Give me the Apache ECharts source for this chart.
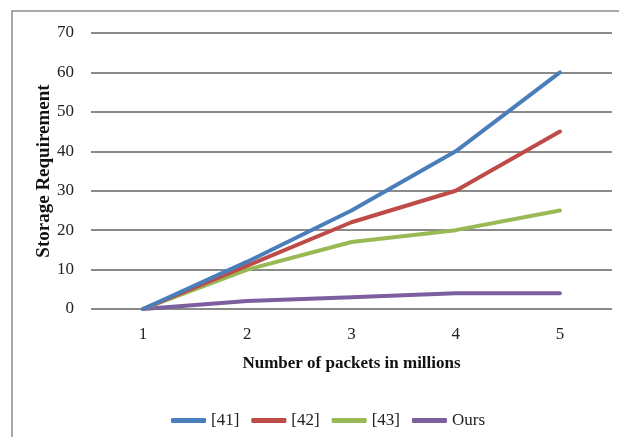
<!DOCTYPE html>
<html>
<head>
<meta charset="utf-8">
<script src="https://cdn.jsdelivr.net/npm/echarts@6/dist/echarts.min.js"></script>
<style>
  html, body { margin: 0; padding: 0; background: #fff; }
  #chart { width: 619px; height: 437px; }
</style>
</head>
<body>
<div id="chart"></div>
<script>
// Packet counts (millions) on the x axis
const categories = ['1', '2', '3', '4', '5'];

// Storage requirement per scheme
const ref41 = [0, 12, 25, 40, 60];
const ref42 = [0, 11, 22, 30, 45];
const ref43 = [0, 10, 17, 20, 25];
const ours = [0, 2, 3, 4, 4];

const seriesNames = ['[41]', '[42]', '[43]', 'Ours'];
const seriesColors = ['#4a7ebb', '#be4b48', '#98b954', '#7d5fa0'];
const seriesData = [ref41, ref42, ref43, ours];

const serif = '"Liberation Serif", "Times New Roman", serif';

const chart = echarts.init(document.getElementById('chart'), null, { renderer: 'canvas' });

chart.setOption({
  animation: false,
  backgroundColor: '#ffffff',
  graphic: [{
    type: 'rect',
    shape: { x: 12, y: 11, width: 640, height: 460 },
    style: { fill: 'none', stroke: '#8c8c8c', lineWidth: 1.5 },
    silent: true
  }],
  grid: { left: 91, right: 7, top: 33, bottom: 128, containLabel: false },
  legend: {
    data: seriesNames,
    left: 166,
    top: 407,
    icon: 'roundRect',
    itemWidth: 35,
    itemHeight: 5,
    itemGap: 12,
    textStyle: { fontFamily: serif, fontSize: 17, color: '#222' }
  },
  xAxis: {
    type: 'category',
    data: categories,
    boundaryGap: true,
    name: 'Number of packets in millions',
    nameLocation: 'middle',
    nameGap: 46,
    nameMoveOverlap: false,
    nameTextStyle: { fontFamily: serif, fontSize: 17, fontWeight: 'bold', color: '#111' },
    axisLine: { show: false },
    axisTick: { show: false },
    axisLabel: { fontFamily: serif, fontSize: 17, color: '#222', margin: 17 },
    splitLine: { show: false }
  },
  yAxis: {
    type: 'value',
    min: 0,
    max: 70,
    interval: 10,
    name: 'Storage Requirement',
    nameLocation: 'middle',
    nameGap: 37,
    nameMoveOverlap: false,
    nameTextStyle: { fontFamily: serif, fontSize: 19, fontWeight: 'bold', color: '#111' },
    axisLine: { show: false },
    axisTick: { show: false },
    axisLabel: { fontFamily: serif, fontSize: 17, color: '#222', margin: 17 },
    splitLine: { show: true, lineStyle: { color: '#8a8a8a', width: 2 } }
  },
  series: seriesNames.map((name, i) => ({
    name: name,
    type: 'line',
    data: seriesData[i],
    symbol: 'none',
    color: seriesColors[i],
    lineStyle: { width: 4, color: seriesColors[i], cap: 'round', join: 'round' },
    z: 10 - i
  }))
});
</script>
</body>
</html>
